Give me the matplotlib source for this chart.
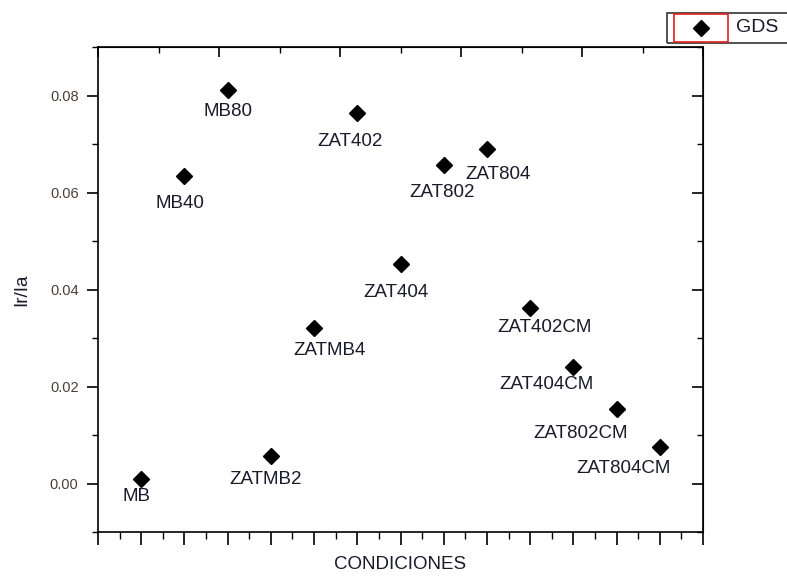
import matplotlib
matplotlib.use("Agg")
import matplotlib.pyplot as plt
from matplotlib.patches import Rectangle
from matplotlib.lines import Line2D
from matplotlib.ticker import MultipleLocator, FixedLocator, NullFormatter

plt.rcParams['font.family'] = ['Liberation Sans', 'DejaVu Sans']

# ---- data ----
conditions = ["MB", "MB40", "MB80", "ZATMB2", "ZATMB4", "ZAT402", "ZAT404",
              "ZAT802", "ZAT804", "ZAT402CM", "ZAT404CM", "ZAT802CM", "ZAT804CM"]
x_index = [1, 2, 3, 4, 5, 6, 7, 8, 9, 10, 11, 12, 13]
ir_ia = [0.0009, 0.0633, 0.0812, 0.0056, 0.0320, 0.0763, 0.0452,
         0.0656, 0.0689, 0.0361, 0.0241, 0.0153, 0.0076]
series_name = "GDS"
y_ticks = [0.00, 0.02, 0.04, 0.06, 0.08]
y_tick_labels = ["0.00", "0.02", "0.04", "0.06", "0.08"]

# label offsets in pixels (dx, dy) relative to each point
label_offsets = [(-5, -17), (-4, -27), (0, -22), (-5, -23), (15, -22), (-7, -28),
                 (-5, -28), (-2, -27), (11, -25), (14, -19), (-27, -18),
                 (-36, -24), (-36, -22)]

W, H = 787, 577
fig = plt.figure(figsize=(W / 100, H / 100), dpi=100)
ax = fig.add_axes([98 / W, 1 - 532 / H, (703 - 98) / W, (532 - 47) / H])

ax.plot(x_index, ir_ia, linestyle='none', marker='D', markersize=8.5,
        color='black', label=series_name)

for name, xv, yv, (dx, dy) in zip(conditions, x_index, ir_ia, label_offsets):
    ax.annotate(name, (xv, yv), xytext=(dx, dy), textcoords='offset pixels',
                ha='center', va='center', fontsize=13.5, color='#1a1a2a')

ax.set_xlim(0, 14)
ax.set_ylim(-0.01, 0.09)

ax.xaxis.set_major_locator(MultipleLocator(1))
ax.xaxis.set_minor_locator(MultipleLocator(0.5))
ax.xaxis.set_major_formatter(NullFormatter())
ax.set_yticks(y_ticks)
ax.set_yticklabels(y_tick_labels)
ax.yaxis.set_minor_locator(MultipleLocator(0.01))

ax.tick_params(axis='x', which='major', direction='out', length=9, width=1.2,
               top=False, bottom=True)
ax.tick_params(axis='x', which='minor', direction='out', length=5, width=1.0)
ax.tick_params(axis='y', which='major', direction='out', length=8, width=1.2,
               labelsize=10.5, labelcolor='#4a4038', pad=6)
ax.tick_params(axis='y', which='minor', direction='out', length=4, width=1.0)

for sp in ax.spines.values():
    sp.set_linewidth(1.2)

# top axis (inward ticks, different spacing)
top = ax.secondary_xaxis('top')
top.xaxis.set_major_locator(FixedLocator([0, 2.8, 5.6, 8.4, 11.2, 14]))
top.xaxis.set_minor_locator(FixedLocator([1.4, 4.2, 7.0, 9.8, 12.6]))
top.xaxis.set_major_formatter(NullFormatter())
top.tick_params(which='major', direction='in', length=7, width=1.2)
top.tick_params(which='minor', direction='in', length=4, width=1.0)

# right axis (inward ticks)
right = ax.secondary_yaxis('right')
right.set_yticks(y_ticks)
right.yaxis.set_minor_locator(MultipleLocator(0.01))
right.yaxis.set_major_formatter(NullFormatter())
right.tick_params(which='major', direction='in', length=8, width=1.2)
right.tick_params(which='minor', direction='in', length=4, width=1.0)

ax.set_xlabel("CONDICIONES", fontsize=13.5, color='#1a1a2a', va='center')
ax.xaxis.set_label_coords(0.5, -0.068)
ax.set_ylabel("Ir/Ia", fontsize=13.5, color='#1a1a2a', labelpad=14)

# legend (Origin style, clipped at figure edge)
fig.add_artist(Rectangle((667 / W, 1 - 43 / H), 130 / W, 30 / H,
                         transform=fig.transFigure, fill=False,
                         edgecolor='#333333', linewidth=1.2))
fig.add_artist(Rectangle((674 / W, 1 - 42 / H), 54 / W, 28 / H,
                         transform=fig.transFigure, fill=False,
                         edgecolor='#e02020', linewidth=1.2))
fig.add_artist(Line2D([701 / W], [1 - 28 / H], transform=fig.transFigure,
                      marker='D', markersize=8, color='black', linestyle='none'))
fig.text(736 / W, 1 - 28 / H, series_name, fontsize=14, va='center', ha='left',
         color='#1a1a2a')

fig.savefig("out.png", dpi=100)
